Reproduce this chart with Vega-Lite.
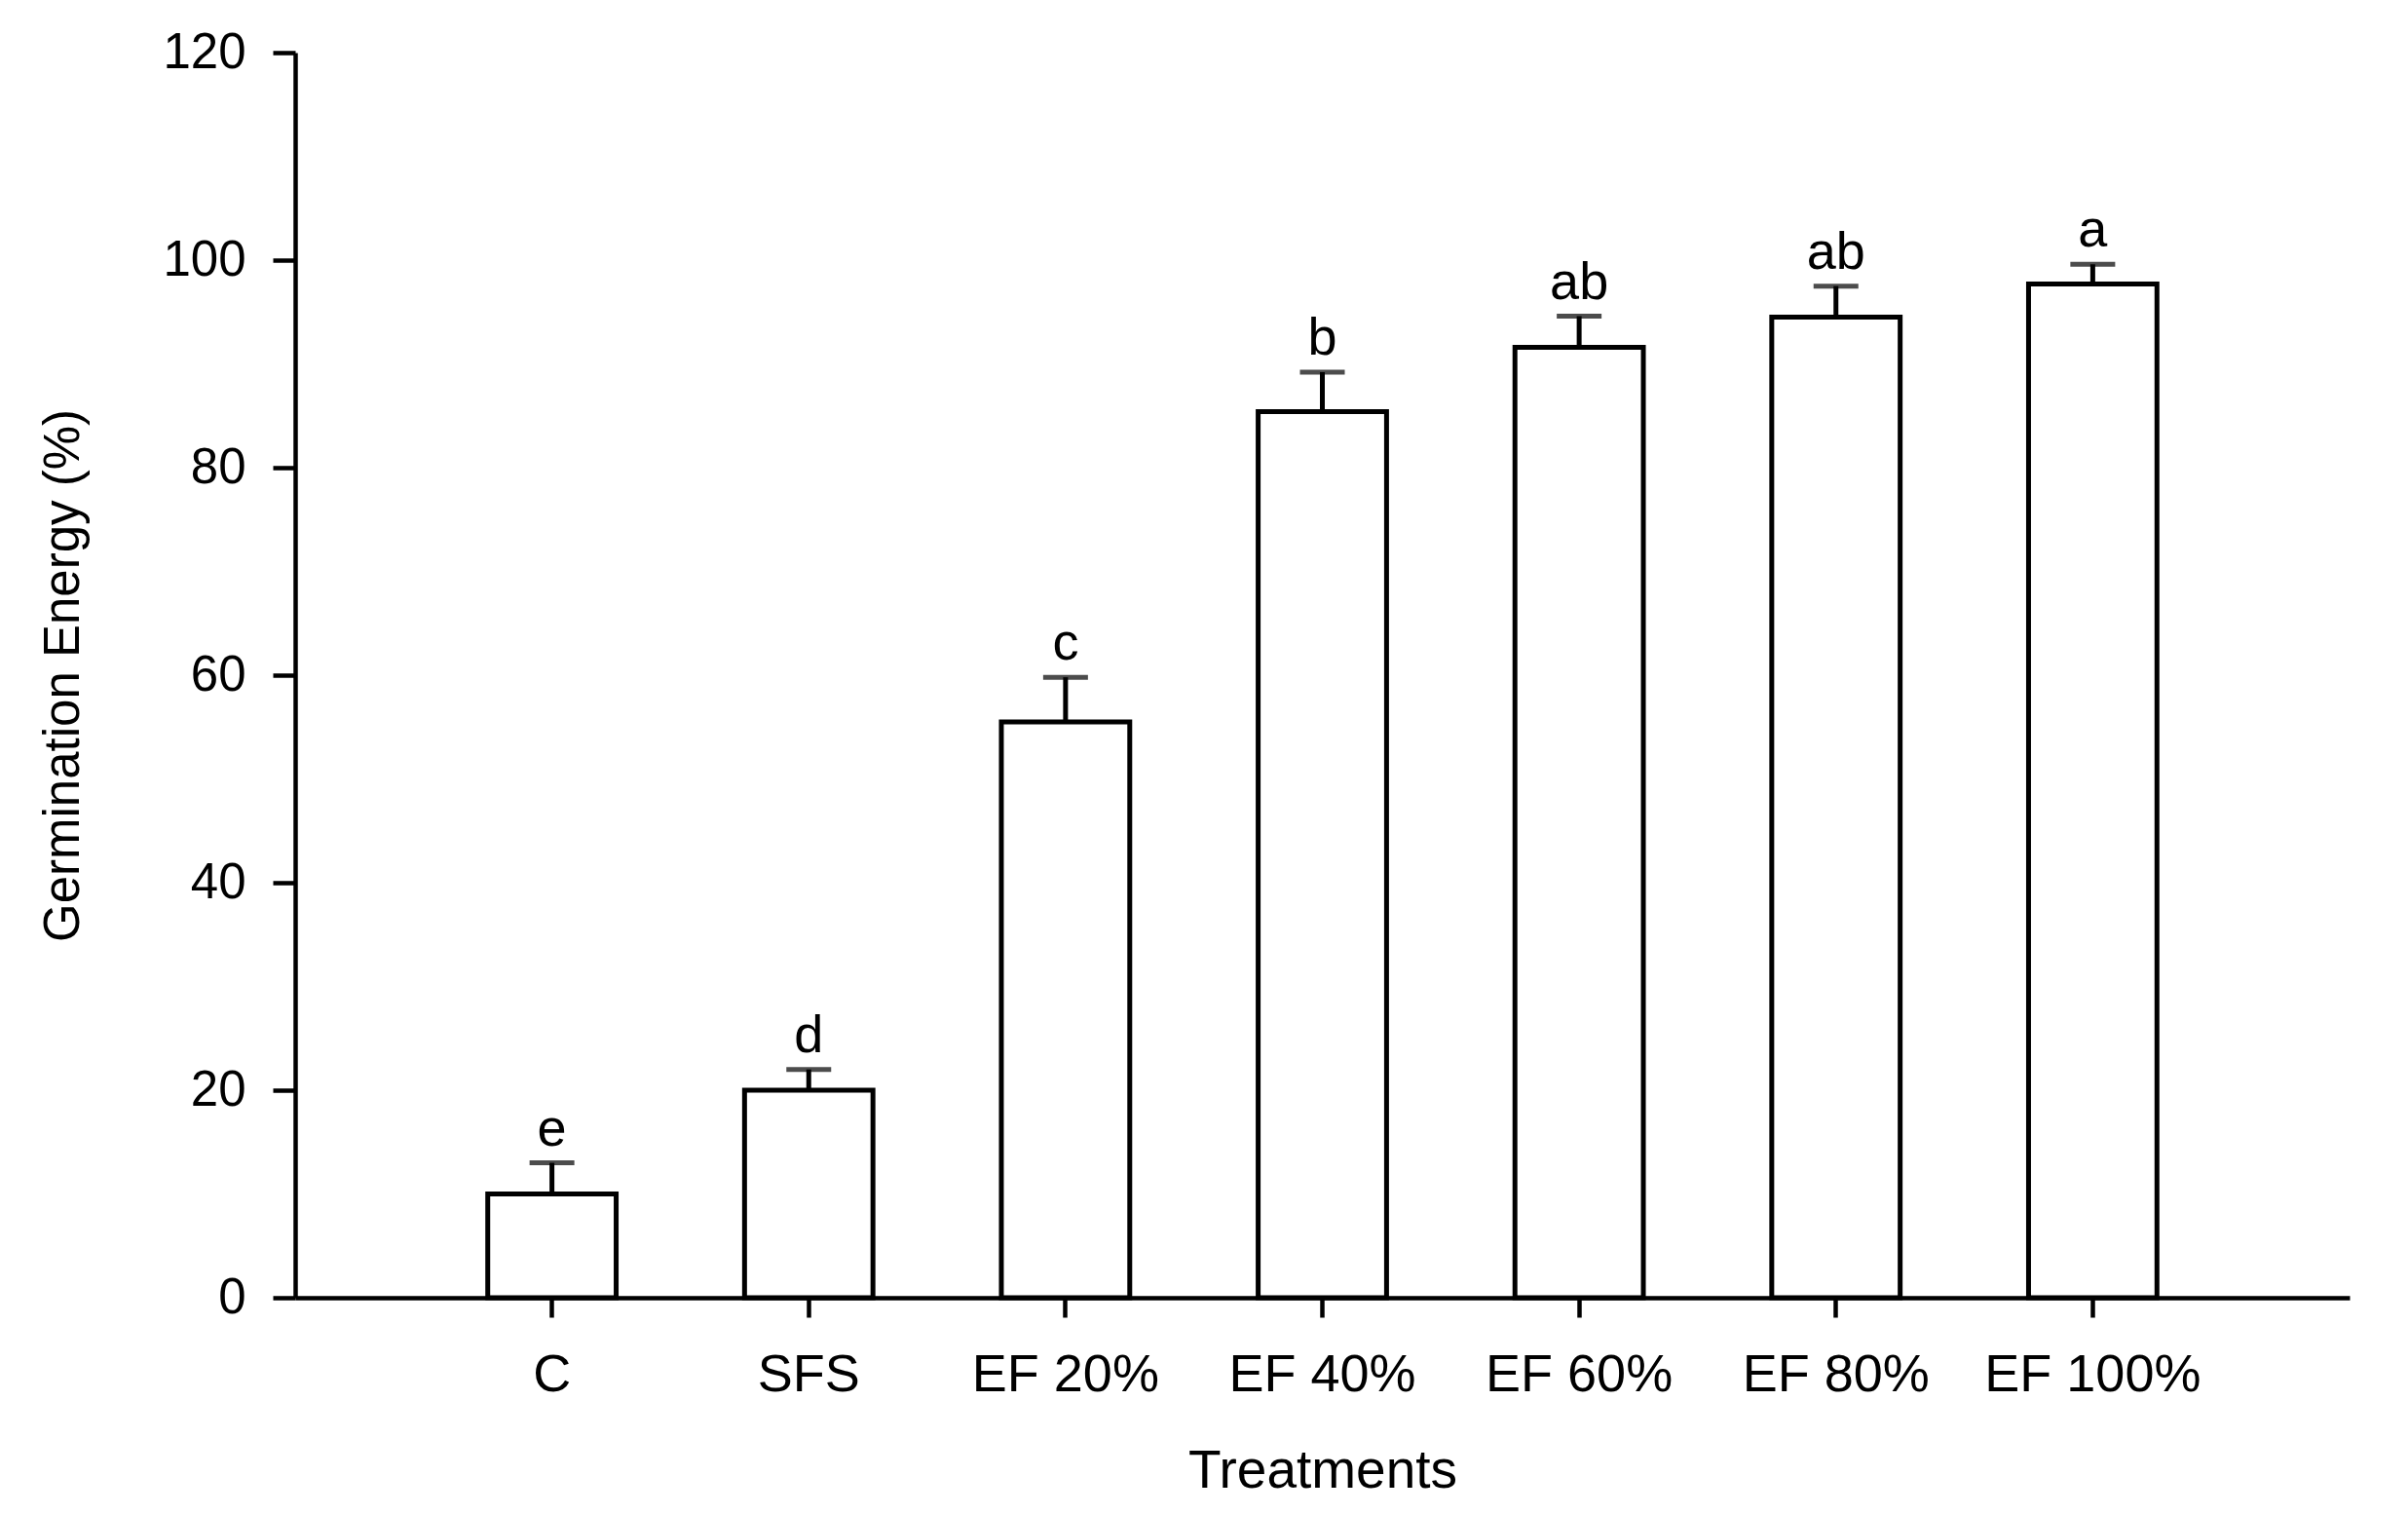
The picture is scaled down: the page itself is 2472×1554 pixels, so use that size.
{
  "$schema": "https://vega.github.io/schema/vega-lite/v6.json",
  "autosize": {"type": "none"},
  "padding": {"left": 303, "top": 54, "right": 60, "bottom": 222},
  "width": 2109,
  "height": 1278,
  "background": "white",
  "config": {
    "view": {"stroke": null},
    "font": "Liberation Sans",
    "axis": {
      "grid": false,
      "domainColor": "black",
      "domainWidth": 4.5,
      "tickColor": "black",
      "tickWidth": 4.5,
      "labelColor": "black",
      "titleColor": "black",
      "labelFont": "Liberation Sans",
      "titleFont": "Liberation Sans",
      "titleFontWeight": "normal",
      "labelLimit": 0
    }
  },
  "data": {
    "values": [
      {"treatment": "C", "mean": 10, "upper": 13, "group": "e"},
      {"treatment": "SFS", "mean": 20, "upper": 22, "group": "d"},
      {"treatment": "EF 20%", "mean": 55.5, "upper": 59.8, "group": "c"},
      {"treatment": "EF 40%", "mean": 85.4, "upper": 89.2, "group": "b"},
      {"treatment": "EF 60%", "mean": 91.6, "upper": 94.6, "group": "ab"},
      {"treatment": "EF 80%", "mean": 94.5, "upper": 97.5, "group": "ab"},
      {"treatment": "EF 100%", "mean": 97.7, "upper": 99.6, "group": "a"}
    ]
  },
  "encoding": {
    "x": {
      "field": "treatment",
      "type": "nominal",
      "sort": null,
      "scale": {"paddingInner": 0.5, "paddingOuter": 0.75},
      "axis": {
        "title": "Treatments",
        "labelAngle": 0,
        "labelFontSize": 54,
        "titleFontSize": 55,
        "tickSize": 20,
        "labelPadding": 32,
        "titlePadding": 45
      }
    }
  },
  "layer": [
    {
      "mark": {"type": "bar", "fill": "white", "stroke": "black", "strokeWidth": 5},
      "encoding": {
        "y": {
          "field": "mean",
          "type": "quantitative",
          "scale": {"domain": [0, 120], "nice": false},
          "axis": {
            "title": "Germination Energy (%)",
            "values": [0, 20, 40, 60, 80, 100, 120],
            "labelFontSize": 51,
            "titleFontSize": 51,
            "tickSize": 23,
            "labelPadding": 28,
            "titlePadding": 75
          }
        }
      }
    },
    {
      "mark": {"type": "rule", "color": "black", "strokeWidth": 5},
      "encoding": {
        "y": {"field": "mean", "type": "quantitative"},
        "y2": {"field": "upper"}
      }
    },
    {
      "mark": {"type": "tick", "color": "black", "thickness": 5, "size": 46, "orient": "horizontal"},
      "encoding": {
        "y": {"field": "upper", "type": "quantitative"}
      }
    },
    {
      "mark": {"type": "text", "color": "black", "fontSize": 54, "baseline": "alphabetic", "dy": -18},
      "encoding": {
        "y": {"field": "upper", "type": "quantitative"},
        "text": {"field": "group", "type": "nominal"}
      }
    }
  ]
}
